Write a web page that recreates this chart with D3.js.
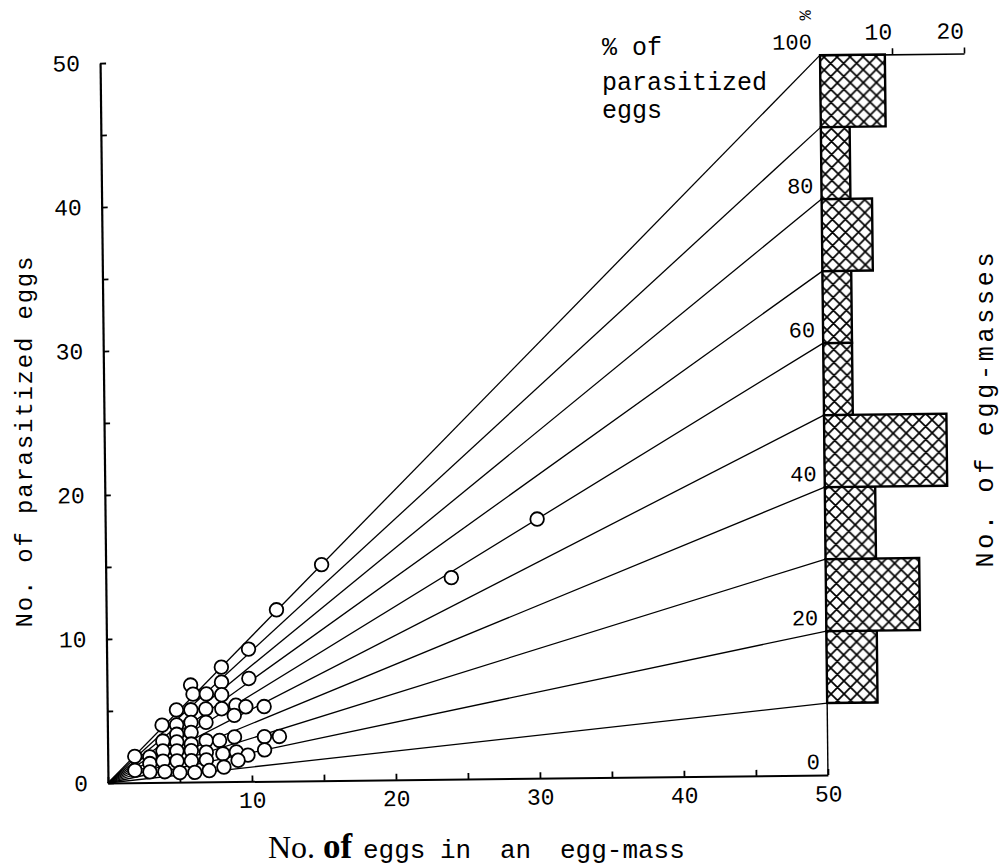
<!DOCTYPE html>
<html><head><meta charset="utf-8">
<script src="https://cdn.jsdelivr.net/npm/d3@7"></script>
<style>
body{margin:0;background:#fff}
text{font-family:"Liberation Mono","DejaVu Sans Mono",monospace;fill:#000}
</style>
</head><body>
<svg id="c" width="1000" height="866"></svg>
<script>
// ---- data ----
const xTickValues = [0,5,10,15,20,25,30,35,40,45,50];
const xTickLabels = [10,20,30,40,50];
const yTickValues = [0,5,10,15,20,25,30,35,40,45,50];
const yTickLabels = [0,10,20,30,40,50];
const percentLines = [10,20,30,40,50,60,70,80,90,100];
const percentLabels = [0,20,40,60,80,100];
const binLower = [0,10,20,30,40,50,60,70,80,90];
const eggMassCounts = [0,7,13,7,17,4,4,7,4,9];
const countTicks = [10,20];
// egg-masses: total eggs (x) and parasitized eggs (y)
const eggsTotal = [15,24,30,11.83,9.86,7.96,5.81,5.97,7.96,9.86,6.9,7.96,4.81,6.85,7.96,8.94,9.63,10.9,5.81,
  3.8,4.81,5.81,6.85,8.82,4.81,5.81,6.85,8.82,10.9,11.94,3.84,4.81,5.81,7.78,10.9,
  1.88,2.92,3.84,4.81,5.81,6.85,8.0,8.94,9.74,2.92,3.84,4.81,5.81,6.85,9.05,
  1.88,2.92,3.96,5.0,6.04,7.04,8.06];
const eggsParasitized = [15,14,18,11.9,9.19,7.96,6.74,6.11,6.92,7.15,6.11,6.04,5.02,5.07,5.07,5.3,5.19,5.19,5.02,
  3.98,3.98,4.14,4.14,4.6,3.33,3.45,2.87,3.1,3.1,3.1,2.87,2.8,2.64,2.87,2.18,
  1.83,1.78,2.18,2.18,2.18,2.06,1.94,2.06,1.83,1.32,1.48,1.48,1.48,1.53,1.48,
  0.86,0.74,0.74,0.67,0.67,0.79,1.02];

// ---- drawing ----
const svg = d3.select("#c");
const x = d3.scaleLinear().domain([0,50]).range([108,828]);
const y = d3.scaleLinear().domain([0,50]).range([783,63]);
const cx = d3.scaleLinear().domain([0,20]).range([x(50), x(50)+144]);
const pct = p => y(p/2);

const defs = svg.append("defs");
const pat = defs.append("pattern").attr("id","hatch").attr("patternUnits","userSpaceOnUse")
  .attr("width",13).attr("height",13);
pat.append("rect").attr("width",13).attr("height",13).attr("fill","#fff");
pat.append("path").attr("d","M-1,-1L14,14M14,-1L-1,14M-1,12L1,14M12,-1L14,1M12,14L14,12M-1,1L1,-1")
  .attr("stroke","#000").attr("stroke-width",1.7);

const g = svg.append("g").attr("transform","rotate(-0.63,108,783)");

// ratio lines
g.selectAll("path.ratio").data(percentLines).join("path").attr("class","ratio")
  .attr("d", p => d3.line()([[x(0),y(0)],[x(50),pct(p)]]))
  .attr("stroke","#000").attr("stroke-width",1.3).attr("fill","none");

// histogram axis (vertical)
g.append("line").attr("x1",x(50)).attr("x2",x(50)).attr("y1",pct(0)).attr("y2",pct(100))
  .attr("stroke","#000").attr("stroke-width",1.4);

// histogram bars
const bins = binLower.map((lo,i)=>({lo, hi: lo+10, n: eggMassCounts[i]})).filter(d=>d.n>0);
g.selectAll("rect.bar").data(bins).join("rect").attr("class","bar")
  .attr("x", x(50)).attr("y", d=>pct(d.hi))
  .attr("width", d=>cx(d.n)-cx(0)).attr("height", d=>pct(d.lo)-pct(d.hi))
  .attr("fill","url(#hatch)").attr("stroke","#000").attr("stroke-width",2.4);

// count axis on top
const ca = g.append("g").attr("transform",`translate(0,${pct(100)})`)
  .call(d3.axisTop(cx).tickValues(countTicks).tickSize(6).tickSizeOuter(0).tickPadding(9));
ca.select(".domain").attr("stroke-width",1.6);
ca.selectAll(".tick line").attr("stroke-width",1.6);
ca.selectAll("text").attr("font-size",23).attr("font-family",null).attr("dx",-14);

// percent labels
g.selectAll("text.pl").data(percentLabels).join("text").attr("class","pl")
  .attr("x", x(50)-8).attr("y", p=>pct(p)-6).attr("text-anchor","end")
  .attr("font-size",22).text(d=>d);
g.append("text").attr("transform",`translate(${x(50)-20},${pct(100)-40}) rotate(90)`)
  .attr("font-size",17).attr("text-anchor","middle").text("%");

// x axis
const xa = g.append("g").attr("transform",`translate(0,${y(0)})`)
  .call(d3.axisBottom(x).tickValues(xTickValues).tickSize(-6).tickSizeOuter(0).tickPadding(10)
    .tickFormat(d => xTickLabels.includes(d) ? d : ""));
xa.select(".domain").attr("stroke-width",2);
xa.selectAll(".tick line").attr("stroke-width",1.8);
xa.selectAll("text").attr("font-size",23).attr("font-family",null);

// y axis
const ya = g.append("g").attr("transform",`translate(${x(0)},0)`)
  .call(d3.axisLeft(y).tickValues(yTickValues).tickSize(-6).tickSizeOuter(0).tickPadding(20)
    .tickFormat(d => yTickLabels.includes(d) ? d : ""));
ya.select(".domain").attr("stroke-width",2.2);
ya.selectAll(".tick line").attr("stroke-width",1.8);
ya.selectAll("text").attr("font-size",23).attr("font-family",null);

// points
const pts = eggsTotal.map((t,i)=>[t, eggsParasitized[i]]);
g.selectAll("circle").data(pts).join("circle")
  .attr("cx", d=>x(d[0])).attr("cy", d=>y(d[1])).attr("r",6.8)
  .attr("fill","#fff").attr("stroke","#000").attr("stroke-width",1.8);

// titles
svg.append("text").attr("transform","translate(25,442) rotate(-90)")
  .attr("text-anchor","middle").attr("dominant-baseline","central")
  .attr("font-size",24).attr("textLength",371).attr("lengthAdjust","spacing")
  .text("No. of parasitized eggs");
svg.append("text").attr("transform","translate(986,410) rotate(-90)")
  .attr("text-anchor","middle").attr("dominant-baseline","central")
  .attr("font-size",25).attr("textLength",315).attr("lengthAdjust","spacing")
  .text("No. of egg-masses");

const pt = svg.append("text").attr("font-size",25);
[["% of",55],["parasitized",90],["eggs",118]].forEach(([s,b])=>
  pt.append("tspan").attr("x",602).attr("y",b).text(s));

const xt = svg.append("text").attr("y",858);
xt.append("tspan").attr("x",268).attr("font-family","Liberation Serif, serif").attr("font-size",32).text("No.");
xt.append("tspan").attr("x",323).attr("font-family","Liberation Serif, serif").attr("font-weight","bold").attr("font-size",35).text("of");
[["eggs",363],["in",440],["an",500],["egg-mass",560]].forEach(([s,px])=>
  xt.append("tspan").attr("x",px).attr("font-size",26).text(s));
</script>
</body></html>
